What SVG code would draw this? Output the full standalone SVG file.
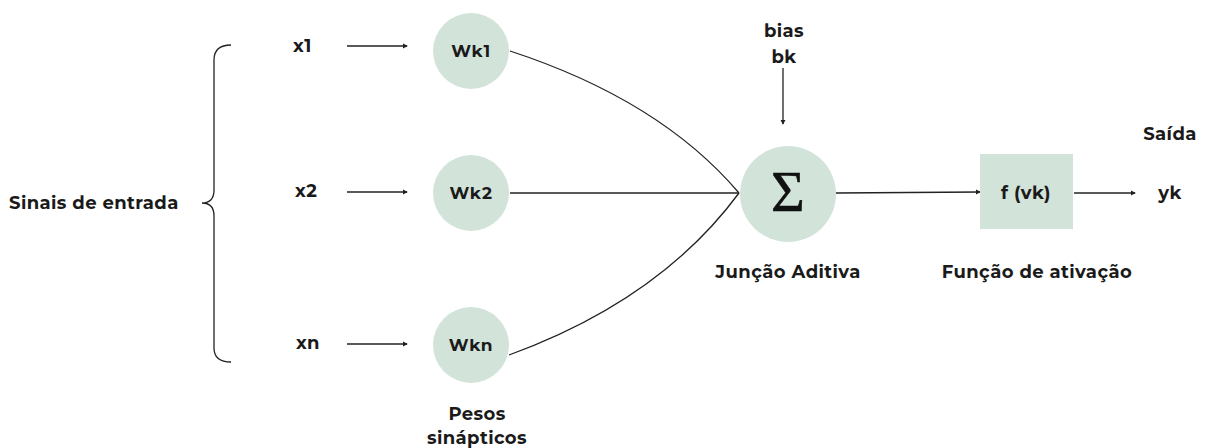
<svg xmlns="http://www.w3.org/2000/svg" width="1209" height="448" viewBox="0 0 1209 448">
<style>
text{font-family:"Montserrat","Open Sans","Liberation Sans",sans-serif;font-weight:700;fill:#1a1a1a;}
.lbl{font-size:18px;letter-spacing:0.4px;}
.node{fill:#d2e3d9;}
.nt{font-size:17px;letter-spacing:0.6px;text-anchor:middle;}
.c{text-anchor:middle;}
.ln{stroke:#222;stroke-width:1.3;fill:none;}
</style>
<defs>
<marker id="ah" viewBox="0 0 6 6" refX="5" refY="3" markerWidth="4" markerHeight="4" orient="auto"><path d="M0,0 L6,3 L0,6 z" fill="#222"/></marker>
</defs>
<rect width="1209" height="448" fill="#fff"/>
<g id="inputs">
<text class="lbl" x="9" y="209">Sinais de entrada</text>
<path class="ln" d="M231,45 Q214,45 214,60 L214,190 Q214,203 202,203 Q214,203 214,216 L214,348 Q214,362 231,362"/>
<text class="lbl" x="293" y="52">x1</text>
<text class="lbl" x="295" y="197">x2</text>
<text class="lbl" x="296" y="349">xn</text>
</g>
<g id="connectors">
<line class="ln" x1="347" y1="46" x2="407" y2="46" marker-end="url(#ah)"/>
<line class="ln" x1="347" y1="192" x2="407" y2="192" marker-end="url(#ah)"/>
<line class="ln" x1="347" y1="344" x2="407" y2="344" marker-end="url(#ah)"/>
<path class="ln" d="M510,51 Q660,100 739,193"/>
<line class="ln" x1="510" y1="193" x2="739" y2="193"/>
<path class="ln" d="M509,355 Q660,300 739,193"/>
<line class="ln" x1="783" y1="68" x2="783" y2="124" marker-end="url(#ah)"/>
<line class="ln" x1="836" y1="193" x2="980" y2="192" marker-end="url(#ah)"/>
<line class="ln" x1="1074" y1="193" x2="1135" y2="193" marker-end="url(#ah)"/>
</g>
<g id="wk1"><circle class="node" cx="471" cy="51" r="38"/><text class="nt" x="471" y="57">Wk1</text></g>
<g id="wk2"><circle class="node" cx="471" cy="193" r="38"/><text class="nt" x="471" y="199">Wk2</text></g>
<g id="wkn"><circle class="node" cx="471" cy="345" r="38"/><text class="nt" x="471" y="351">Wkn</text></g>
<g id="pesos"><text class="lbl c" x="477" y="420">Pesos</text><text class="lbl c" x="477" y="444">sinápticos</text></g>
<g id="bias"><text class="lbl c" x="784" y="37">bias</text><text class="lbl c" x="784" y="63">bk</text></g>
<g id="soma"><circle class="node" cx="788" cy="194" r="48"/><text x="788" y="211" text-anchor="middle" style="font-family:'Liberation Serif','DejaVu Serif',serif;font-weight:400;font-size:58px;fill:#111;stroke:#111;stroke-width:0.6">Σ</text>
<text class="lbl c" x="788" y="278">Junção Aditiva</text></g>
<g id="ativacao"><rect class="node" x="980" y="154" width="93" height="75"/><text class="lbl c" x="1026" y="199">f (vk)</text>
<text class="lbl c" x="1037" y="278">Função de ativação</text></g>
<g id="saida"><text class="lbl c" x="1170" y="140">Saída</text><text class="lbl c" x="1170" y="199">yk</text></g>
</svg>
